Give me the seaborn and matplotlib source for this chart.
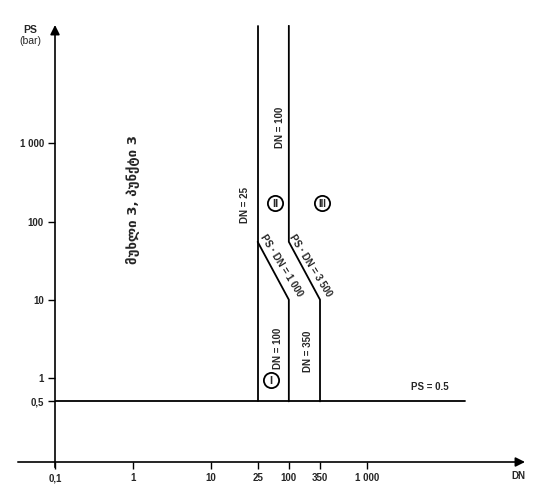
import numpy as np
import matplotlib
matplotlib.use("Agg")
import matplotlib.pyplot as plt
import seaborn as sns

# boundary lines of the category diagram (DN, PS in bar)
dn25_x = [25, 25]
dn25_y = [0.5, 32000]
cat1_x = [100, 100, 25]
cat1_y = [0.5, 10, 55]
cat2_x = [100, 100, 350, 350]
cat2_y = [32000, 55, 10, 0.5]
ps05_x = [0.1, 18000]
ps05_y = [0.5, 0.5]

# category markers (I, II, III)
cat_names = ["I", "II", "III"]
cat_dn = [45, 54, 365]
cat_ps = [0.94, 175, 175]

x_ticks = [0.1, 1, 10, 25, 100, 350, 1000]
x_labels = ["0,1", "1", "10", "25", "100", "350", "1 000"]
y_ticks = [0.5, 1, 10, 100, 1000]
y_labels = ["0,5", "1", "10", "100", "1 000"]

# the drawing is schematic: 25 and 350 sit off their true log position
knot_log = [-1, 0, 1, np.log10(25), 2, np.log10(350), 3, 6]
knot_pos = [0, 1, 2, 2.6, 3, 3.4, 4, 7]


def fwd(x):
    x = np.clip(np.asarray(x, dtype=float), 1e-6, None)
    return np.interp(np.log10(x), knot_log, knot_pos)


def inv(p):
    return 10 ** np.interp(p, knot_pos, knot_log)


sns.set_theme(style="white")
plt.rcParams["font.family"] = ["Liberation Sans", "DejaVu Sans"]

fig = plt.figure(figsize=(5.51, 5.01), dpi=100)
ax = fig.add_axes([55 / 551, 39 / 501, 470 / 551, 437 / 501])
ax.set_xscale("function", functions=(fwd, inv))
ax.set_yscale("log")
ax.set_xlim(0.1, inv(6.03))
ax.set_ylim(0.0838, 32700)

for xs, ys in [(dn25_x, dn25_y), (cat1_x, cat1_y), (cat2_x, cat2_y), (ps05_x, ps05_y)]:
    sns.lineplot(x=xs, y=ys, sort=False, estimator=None, color="black",
                 linewidth=1.3, ax=ax)

sns.scatterplot(x=cat_dn, y=cat_ps, s=120, color="white", edgecolor="black",
                linewidth=1.3, ax=ax, zorder=5)
for name, xv, yv in zip(cat_names, cat_dn, cat_ps):
    ax.text(xv, yv, name, fontsize=8 if len(name) < 3 else 7,
            fontweight="bold", ha="center", va="center_baseline", zorder=6)

for s in ax.spines.values():
    s.set_visible(False)
ax.set_xticks(x_ticks)
ax.set_xticklabels(x_labels)
ax.set_yticks(y_ticks)
ax.set_yticklabels(y_labels)
ax.minorticks_off()
ax.tick_params(direction="out", length=5, width=1, color="black",
               labelsize=7, pad=3, bottom=True, left=True)
for lab in ax.get_xticklabels() + ax.get_yticklabels():
    lab.set_fontweight("bold")

# axis arrows
ax.annotate("", xy=(1, 0), xytext=(-0.079, 0), xycoords="axes fraction",
            arrowprops=dict(arrowstyle="-|>", color="black", lw=1.2,
                            mutation_scale=14, shrinkA=0, shrinkB=0))
ax.annotate("", xy=(0, 1), xytext=(0, -0.012), xycoords="axes fraction",
            arrowprops=dict(arrowstyle="-|>", color="black", lw=1.2,
                            mutation_scale=14, shrinkA=0, shrinkB=0))

tk = dict(fontsize=7, fontweight="bold", ha="center", va="center")
ax.text(-0.053, 0.989, "PS", transform=ax.transAxes, fontsize=7.5,
        fontweight="bold", ha="center", va="center")
ax.text(-0.053, 0.963, "(bar)", transform=ax.transAxes, fontsize=7.5,
        ha="center", va="center")
ax.text(0.985, -0.032, "DN", transform=ax.transAxes, **tk)

ax.text(1.0, 190, "მუხლი 3, პუნქტი 3", rotation=90,
        family=["DejaVu Sans"], fontsize=9.5, fontweight="bold",
        ha="center", va="center")

ax.text(19.6, 165, "DN = 25", rotation=90, **tk)
ax.text(67, 1600, "DN = 100", rotation=90, **tk)
ax.text(63, 2.4, "DN = 100", rotation=90, **tk)
ax.text(213, 2.2, "DN = 350", rotation=90, **tk)
ax.text(72, 27, "PS · DN = 1 000", rotation=-58, rotation_mode="anchor", **tk)
ax.text(240, 27, "PS · DN = 3 500", rotation=-58, rotation_mode="anchor", **tk)
ax.text(6500, 0.77, "PS = 0.5", **tk)

fig.savefig("out.png", dpi=100)
